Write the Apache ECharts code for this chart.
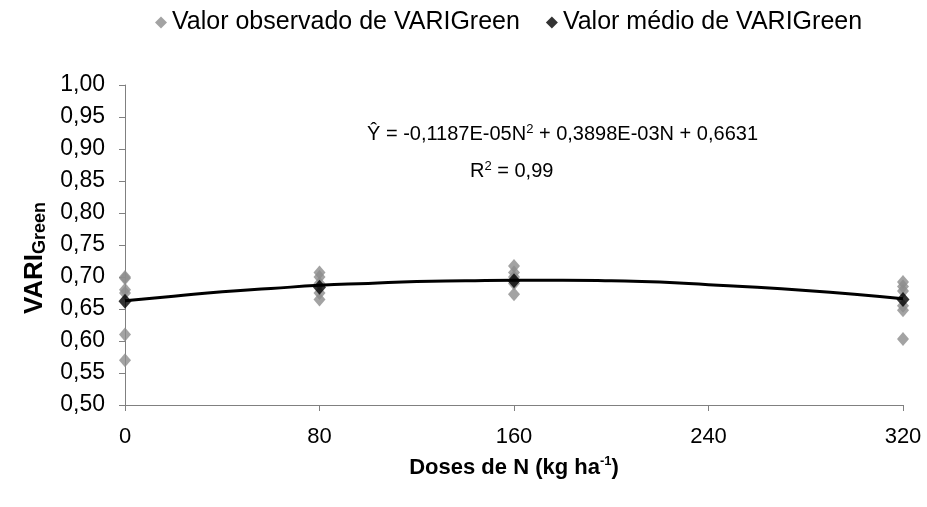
<!DOCTYPE html>
<html><head><meta charset="utf-8">
<script src="https://cdn.jsdelivr.net/npm/echarts@6/dist/echarts.min.js"></script>
<style>html,body{margin:0;padding:0;background:#fff}#c{width:927px;height:507px}</style>
</head><body><div id="c"></div>
<script>
var doses = [0, 80, 160, 320];
var observed0 = [0.700, 0.698, 0.680, 0.675, 0.610, 0.570];
var observed80 = [0.707, 0.700, 0.690, 0.675, 0.665];
var observed160 = [0.717, 0.707, 0.700, 0.690, 0.673];
var observed320 = [0.692, 0.685, 0.678, 0.655, 0.648, 0.603];
var meanValues = [0.662, 0.684, 0.694, 0.665];
var curveN = [0, 20, 40, 60, 80, 100, 120, 140, 160, 180, 200, 220, 240, 260, 280, 300, 320];
var curveY = [0.663, 0.670, 0.677, 0.682, 0.687, 0.690, 0.693, 0.694, 0.695, 0.695, 0.694, 0.692, 0.688, 0.684, 0.679, 0.673, 0.666];
var legendNames = ['Valor observado de VARIGreen', 'Valor médio de VARIGreen'];

var obsData = [];
[observed0, observed80, observed160, observed320].forEach(function (arr, i) {
  arr.forEach(function (v) { obsData.push([doses[i], v]); });
});
var meanData = doses.map(function (d, i) { return [d, meanValues[i]]; });
var curveData = curveN.map(function (n, i) { return [n, curveY[i]]; });

var font = 'Liberation Sans, Arial, sans-serif';
var chart = echarts.init(document.getElementById('c'), null, {renderer: 'canvas'});
chart.setOption({
  animation: false,
  backgroundColor: '#fff',
  textStyle: {fontFamily: font},
  grid: {left: 125, right: 24, top: 85, bottom: 102, containLabel: false},
  legend: {
    data: legendNames, top: 5, left: 150, itemWidth: 12, itemHeight: 12, itemGap: 26,
    textStyle: {fontSize: 25, color: '#000', fontFamily: font},
    icon: 'diamond'
  },
  xAxis: {
    type: 'value', min: 0, max: 320, interval: 80,
    axisLine: {lineStyle: {color: '#808080', width: 1}},
    axisTick: {show: true, length: 6, lineStyle: {color: '#808080'}},
    splitLine: {show: false},
    axisLabel: {fontSize: 22, color: '#000', margin: 21, fontFamily: font},
    name: 'Doses de N (kg ha{sup|-1})', nameLocation: 'middle', nameGap: 50,
    nameTextStyle: {fontSize: 22, fontWeight: 'bold', color: '#000', fontFamily: font,
      rich: {sup: {fontSize: 13, fontWeight: 'bold', verticalAlign: 'top', padding: [0,0,12,0], fontFamily: font}}}
  },
  yAxis: {
    type: 'value', min: 0.5, max: 1.0, interval: 0.05,
    axisLine: {show: true, lineStyle: {color: '#808080', width: 1}},
    axisTick: {show: true, length: 6, lineStyle: {color: '#808080'}},
    splitLine: {show: false},
    axisLabel: {fontSize: 23, color: '#000', margin: 20, fontFamily: font,
      formatter: function (v) { return v.toFixed(2).replace('.', ','); }}
  },
  series: [
    {name: legendNames[0], type: 'scatter', data: obsData, symbol: 'diamond', symbolSize: [12, 14],
      itemStyle: {color: '#8c8c8c'}, z: 2},
    {name: 'curve', type: 'line', data: curveData, smooth: true, symbol: 'none',
      lineStyle: {color: '#000', width: 3}, z: 3},
    {name: legendNames[1], type: 'scatter', data: meanData, symbol: 'diamond', symbolSize: [13, 15],
      itemStyle: {color: '#000'}, z: 4}
  ],
  graphic: [
    {type: 'text', left: 367, top: 123, style: {
      text: 'Ŷ = -0,1187E-05N{sup|2} + 0,3898E-03N + 0,6631', fill: '#000', font: '20px ' + font,
      rich: {sup: {fontSize: 13, verticalAlign: 'top', padding: [0,0,10,0], fontFamily: font}}}},
    {type: 'text', left: 470, top: 160, style: {
      text: 'R{sup|2} = 0,99', fill: '#000', font: '20px ' + font,
      rich: {sup: {fontSize: 13, verticalAlign: 'top', padding: [0,0,10,0], fontFamily: font}}}},
    {type: 'text', x: 35, y: 258, rotation: Math.PI / 2, style: {
      text: '{a|VARI}{b|Green}', align: 'center', verticalAlign: 'middle', fill: '#000',
      rich: {a: {fontSize: 26, fontWeight: 'bold', fill: '#000', fontFamily: font},
             b: {fontSize: 18, fontWeight: 'bold', fill: '#000', fontFamily: font, padding: [10,0,0,0]}}}}
  ]
});
</script></body></html>
